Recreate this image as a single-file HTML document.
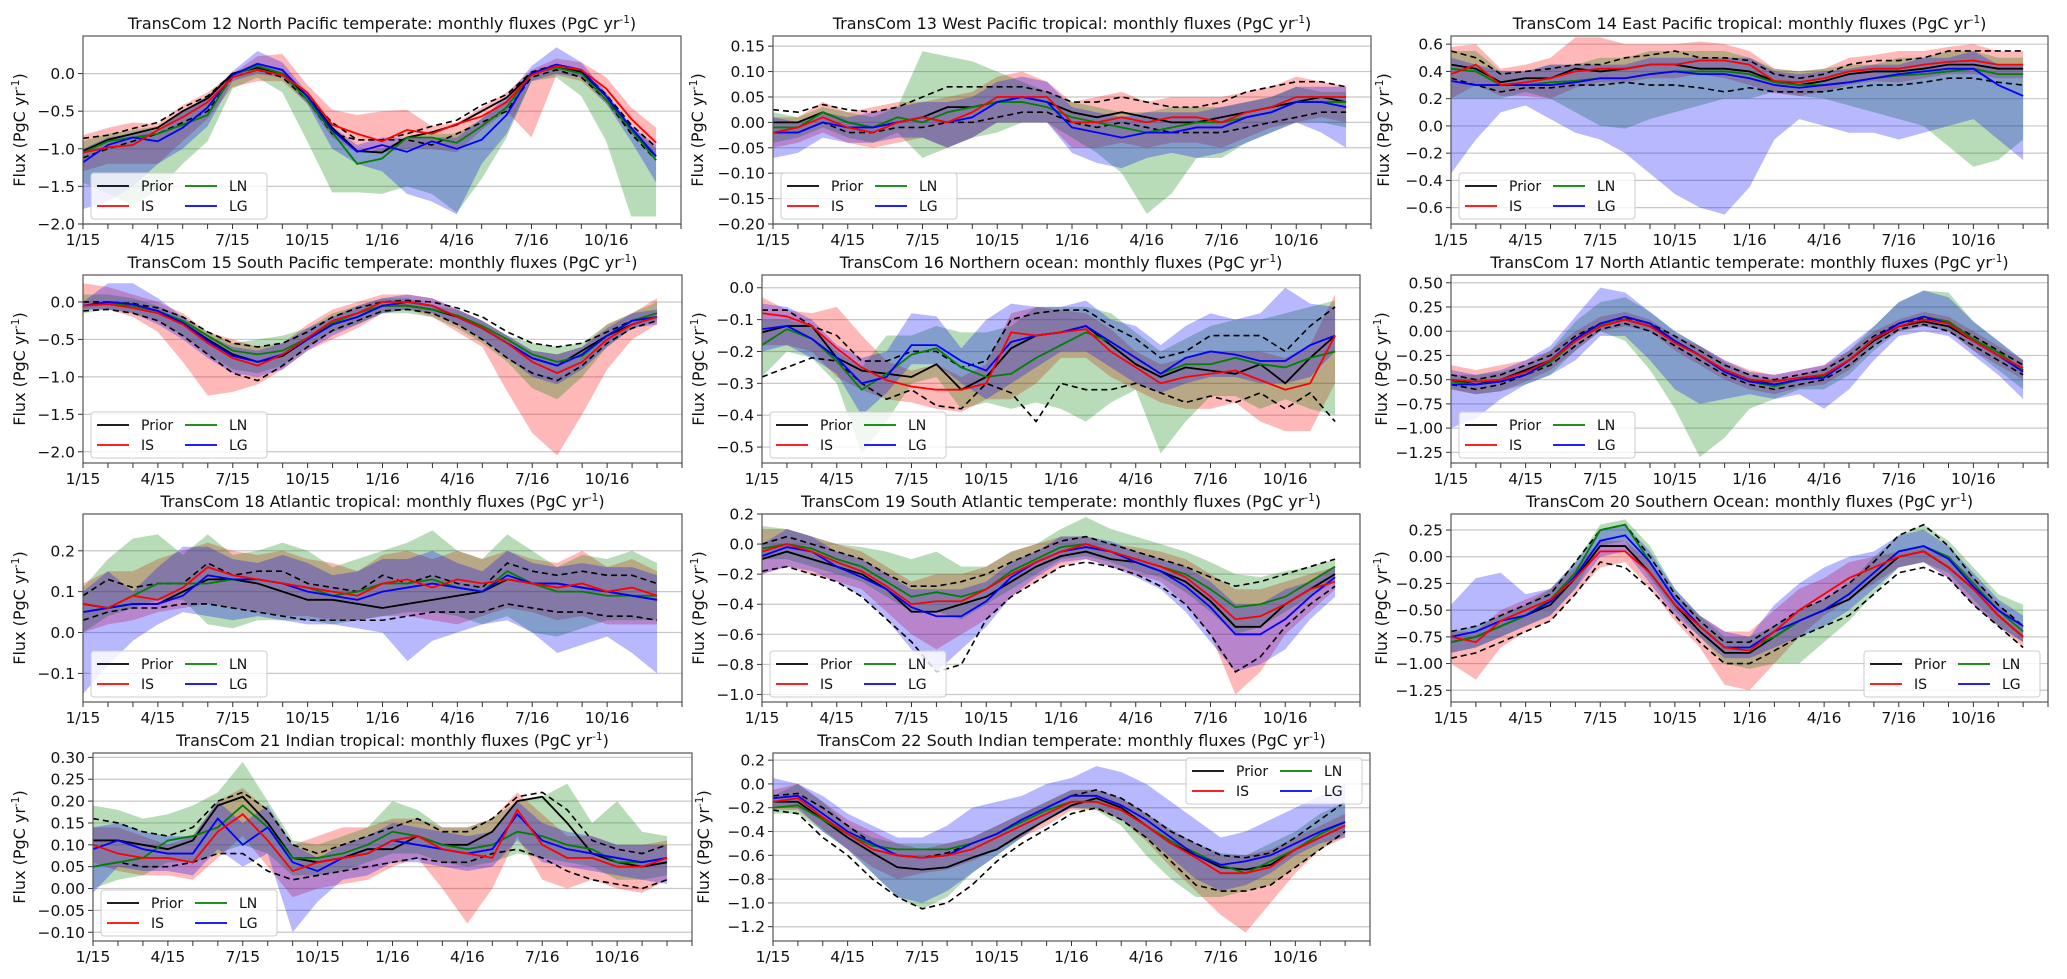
<!DOCTYPE html>
<html><head><meta charset="utf-8"><style>
html,body{margin:0;padding:0;background:#fff;}
svg{display:block;font-family:"DejaVu Sans","Liberation Sans",sans-serif;}
</style></head><body>
<svg id="fig" width="2067" height="979" viewBox="0 0 2067 979" xmlns="http://www.w3.org/2000/svg"></svg>
<script>
const monthTickLabels = ["1/15","4/15","7/15","10/15","1/16","4/16","7/16","10/16"];
const seriesNames = ["Prior","IS","LN","LG"];

const p12_prior=[-1.03,-0.88,-0.8,-0.72,-0.5,-0.33,0.0,0.08,0.0,-0.3,-0.72,-1.03,-1.05,-0.85,-0.78,-0.68,-0.5,-0.32,0.0,0.1,0.02,-0.3,-0.75,-1.1];
const p12_is=[-1.05,-0.98,-0.95,-0.75,-0.58,-0.38,-0.05,0.05,-0.02,-0.25,-0.68,-0.8,-0.9,-0.75,-0.8,-0.67,-0.57,-0.38,-0.02,0.1,0.05,-0.2,-0.6,-0.92];
const p12_ln=[-1.05,-0.9,-0.85,-0.8,-0.68,-0.55,-0.02,0.1,0.0,-0.35,-0.78,-1.2,-1.13,-0.85,-0.85,-0.92,-0.7,-0.45,0.0,0.08,0.0,-0.35,-0.75,-1.15];
const p12_lg=[-1.18,-0.95,-0.85,-0.9,-0.72,-0.45,-0.02,0.13,0.05,-0.3,-0.75,-1.04,-0.95,-1.04,-0.9,-1.0,-0.88,-0.55,0.0,0.12,0.05,-0.3,-0.72,-1.1];
const p12_isHi=[-0.82,-0.72,-0.65,-0.67,-0.42,-0.25,0.0,0.23,0.26,-0.15,-0.48,-0.55,-0.5,-0.48,-0.7,-0.65,-0.45,-0.25,0.05,0.2,0.15,-0.05,-0.45,-0.72];
const p12_isLo=[-1.3,-1.2,-1.2,-1.2,-0.9,-0.6,-0.18,-0.1,-0.1,-0.4,-0.85,-1.05,-1.05,-1.0,-1.0,-1.05,-0.75,-0.5,-0.85,-0.02,-0.1,-0.4,-0.8,-1.1];
const p12_lnHi=[-0.9,-0.8,-0.75,-0.7,-0.5,-0.3,0.0,0.15,0.05,-0.25,-0.7,-1.05,-1.0,-0.85,-0.8,-0.8,-0.6,-0.35,0.03,0.12,0.05,-0.3,-0.7,-1.0];
const p12_lnLo=[-1.45,-1.6,-1.75,-1.55,-1.2,-0.9,-0.2,-0.05,-0.25,-0.9,-1.58,-1.58,-1.6,-1.5,-1.6,-1.85,-1.4,-0.85,-0.1,-0.05,-0.3,-0.9,-1.9,-1.9];
const p12_lgHi=[-1.0,-0.85,-0.8,-0.75,-0.5,-0.3,0.03,0.3,0.15,-0.25,-0.7,-0.95,-0.85,-0.85,-0.85,-0.85,-0.6,-0.3,0.1,0.35,0.15,-0.25,-0.7,-0.95];
const p12_lgLo=[-1.8,-1.7,-1.5,-1.2,-1.0,-0.7,-0.1,0.0,-0.05,-0.4,-1.0,-1.2,-1.3,-1.6,-1.7,-1.87,-1.2,-0.8,-0.1,0.0,-0.05,-0.4,-0.9,-1.45];
const p12_prHi=[-0.86,-0.82,-0.73,-0.65,-0.45,-0.3,0.0,0.1,0.0,-0.3,-0.65,-0.88,-0.88,-0.8,-0.7,-0.62,-0.42,-0.28,0.02,0.12,0.04,-0.28,-0.68,-0.98];
const p12_prLo=[-1.12,-1.0,-0.9,-0.8,-0.65,-0.5,-0.05,0.05,-0.05,-0.35,-0.8,-0.88,-0.88,-0.88,-0.95,-0.8,-0.65,-0.5,-0.05,0.05,-0.05,-0.35,-0.8,-1.15];

const p13_prior=[0.0,0.0,0.02,0.0,-0.01,0.0,0.01,0.03,0.03,0.04,0.05,0.04,0.02,0.01,0.02,0.01,0.0,0.0,0.01,0.02,0.03,0.04,0.05,0.04];
const p13_is=[-0.02,-0.01,0.01,-0.01,-0.02,0.0,0.01,0.0,0.02,0.05,0.05,0.05,0.0,0.0,0.01,0.0,0.01,0.01,0.0,0.02,0.03,0.05,0.05,0.05];
const p13_ln=[-0.01,-0.01,0.02,0.0,-0.01,0.01,0.0,0.02,0.03,0.04,0.04,0.03,0.01,0.0,-0.01,-0.02,-0.01,0.0,0.0,0.01,0.02,0.04,0.04,0.04];
const p13_lg=[-0.02,-0.02,0.0,-0.01,-0.01,0.0,0.01,0.0,0.01,0.04,0.05,0.04,-0.01,-0.02,-0.03,-0.02,-0.02,-0.01,-0.01,0.01,0.02,0.04,0.04,0.03];
const p13_isHi=[0.01,0.01,0.04,0.02,0.03,0.04,0.04,0.05,0.06,0.09,0.1,0.08,0.04,0.05,0.06,0.04,0.05,0.05,0.05,0.06,0.07,0.09,0.08,0.07];
const p13_isLo=[-0.05,-0.04,-0.02,-0.04,-0.05,-0.04,-0.03,-0.05,-0.03,0.0,0.0,0.0,-0.05,-0.05,-0.04,-0.05,-0.04,-0.04,-0.05,-0.03,-0.01,0.0,0.01,0.0];
const p13_lnHi=[0.02,0.01,0.03,0.02,0.01,0.03,0.14,0.13,0.12,0.1,0.08,0.06,0.04,0.03,0.02,0.02,0.03,0.03,0.03,0.04,0.05,0.07,0.06,0.06];
const p13_lnLo=[-0.04,-0.03,-0.01,-0.03,-0.04,-0.02,-0.07,-0.05,-0.03,-0.02,0.0,0.0,-0.03,-0.06,-0.1,-0.18,-0.14,-0.07,-0.07,-0.04,-0.02,0.0,0.0,-0.01];
const p13_lgHi=[0.01,0.0,0.02,0.01,0.02,0.03,0.04,0.04,0.05,0.08,0.09,0.08,0.03,0.02,0.01,0.02,0.02,0.02,0.03,0.04,0.05,0.07,0.07,0.07];
const p13_lgLo=[-0.07,-0.06,-0.03,-0.04,-0.04,-0.03,-0.03,-0.05,-0.03,0.0,0.0,0.0,-0.06,-0.08,-0.09,-0.07,-0.06,-0.07,-0.06,-0.04,-0.02,0.0,-0.02,-0.05];
const p13_prHi=[0.025,0.02,0.035,0.025,0.02,0.03,0.05,0.07,0.07,0.07,0.07,0.06,0.04,0.04,0.05,0.04,0.03,0.03,0.04,0.06,0.07,0.08,0.08,0.07];
const p13_prLo=[-0.02,-0.02,0.0,-0.02,-0.02,-0.01,-0.01,0.0,0.0,0.01,0.02,0.02,0.0,-0.01,0.0,-0.01,-0.02,-0.02,-0.02,-0.01,0.0,0.01,0.02,0.02];

const p14_prior=[0.45,0.42,0.32,0.35,0.35,0.42,0.4,0.42,0.45,0.45,0.42,0.42,0.4,0.33,0.3,0.33,0.38,0.4,0.4,0.42,0.45,0.45,0.42,0.42];
const p14_is=[0.38,0.45,0.3,0.32,0.35,0.4,0.42,0.42,0.45,0.45,0.48,0.48,0.45,0.33,0.32,0.35,0.4,0.42,0.42,0.45,0.47,0.48,0.45,0.45];
const p14_ln=[0.42,0.4,0.3,0.3,0.32,0.33,0.35,0.35,0.38,0.4,0.4,0.4,0.38,0.32,0.3,0.3,0.32,0.35,0.37,0.38,0.4,0.42,0.38,0.38];
const p14_lg=[0.33,0.3,0.3,0.3,0.3,0.32,0.35,0.35,0.38,0.4,0.38,0.38,0.35,0.3,0.28,0.3,0.32,0.35,0.38,0.4,0.42,0.42,0.3,0.22];
const p14_isHi=[0.58,0.6,0.42,0.45,0.5,0.65,0.65,0.6,0.6,0.6,0.62,0.6,0.55,0.42,0.4,0.42,0.5,0.52,0.55,0.55,0.58,0.6,0.55,0.55];
const p14_isLo=[0.2,0.3,0.22,0.22,0.2,0.28,0.32,0.32,0.35,0.35,0.38,0.35,0.3,0.24,0.22,0.25,0.3,0.33,0.32,0.35,0.38,0.38,0.35,0.35];
const p14_lnHi=[0.55,0.55,0.4,0.4,0.45,0.45,0.5,0.5,0.55,0.55,0.55,0.55,0.5,0.42,0.4,0.42,0.45,0.45,0.5,0.5,0.55,0.55,0.5,0.5];
const p14_lnLo=[0.2,0.2,0.2,0.25,0.2,0.1,0.0,-0.02,0.05,0.1,0.15,0.2,0.2,0.25,0.22,0.2,0.15,0.1,0.05,0.0,-0.15,-0.3,-0.25,-0.1];
const p14_lgHi=[0.5,0.45,0.4,0.4,0.45,0.45,0.45,0.45,0.5,0.5,0.5,0.5,0.5,0.4,0.38,0.4,0.42,0.45,0.45,0.5,0.5,0.55,0.45,0.45];
const p14_lgLo=[-0.35,-0.1,0.1,0.15,0.05,-0.05,-0.1,-0.2,-0.35,-0.5,-0.6,-0.65,-0.45,-0.1,0.05,0.0,-0.05,-0.05,-0.1,-0.05,0.0,0.05,-0.1,-0.25];
const p14_prHi=[0.55,0.5,0.38,0.4,0.42,0.45,0.45,0.5,0.52,0.55,0.5,0.5,0.48,0.38,0.35,0.38,0.45,0.48,0.48,0.5,0.55,0.55,0.55,0.55];
const p14_prLo=[0.35,0.3,0.25,0.28,0.28,0.3,0.3,0.32,0.3,0.3,0.28,0.25,0.28,0.25,0.25,0.25,0.28,0.3,0.3,0.32,0.35,0.35,0.32,0.3];

const p15_prior=[-0.05,-0.02,-0.05,-0.12,-0.28,-0.5,-0.7,-0.8,-0.72,-0.5,-0.3,-0.2,-0.05,-0.05,-0.1,-0.2,-0.35,-0.55,-0.75,-0.85,-0.65,-0.45,-0.3,-0.2];
const p15_is=[-0.05,-0.03,-0.08,-0.15,-0.3,-0.55,-0.75,-0.85,-0.7,-0.48,-0.25,-0.15,0.0,0.0,-0.05,-0.2,-0.35,-0.55,-0.8,-0.95,-0.8,-0.5,-0.3,-0.2];
const p15_ln=[-0.05,-0.02,-0.05,-0.12,-0.25,-0.45,-0.65,-0.7,-0.65,-0.48,-0.28,-0.15,-0.05,-0.05,-0.1,-0.18,-0.32,-0.5,-0.7,-0.8,-0.72,-0.45,-0.25,-0.15];
const p15_lg=[-0.05,0.0,-0.03,-0.12,-0.28,-0.52,-0.72,-0.8,-0.7,-0.5,-0.3,-0.2,-0.05,0.0,-0.05,-0.2,-0.35,-0.55,-0.75,-0.85,-0.7,-0.45,-0.25,-0.2];
const p15_isHi=[0.25,0.2,0.1,0.0,-0.15,-0.4,-0.5,-0.6,-0.55,-0.3,-0.1,0.0,0.1,0.1,0.05,-0.1,-0.25,-0.45,-0.65,-0.7,-0.6,-0.3,-0.15,0.05];
const p15_isLo=[-0.1,-0.1,-0.2,-0.4,-0.8,-1.25,-1.2,-1.1,-0.9,-0.65,-0.5,-0.35,-0.15,-0.1,-0.2,-0.4,-0.6,-1.2,-1.75,-2.05,-1.5,-0.9,-0.5,-0.3];
const p15_lnHi=[0.1,0.1,0.05,-0.05,-0.2,-0.4,-0.55,-0.5,-0.45,-0.35,-0.15,-0.05,0.05,0.05,-0.05,-0.1,-0.25,-0.45,-0.55,-0.6,-0.55,-0.3,-0.15,0.0];
const p15_lnLo=[-0.15,-0.1,-0.15,-0.25,-0.45,-0.7,-0.9,-0.95,-0.85,-0.6,-0.4,-0.3,-0.15,-0.15,-0.2,-0.35,-0.55,-0.8,-1.15,-1.3,-1.0,-0.6,-0.35,-0.25];
const p15_lgHi=[0.0,0.25,0.25,0.05,-0.2,-0.45,-0.6,-0.65,-0.55,-0.35,-0.2,-0.05,0.05,0.1,0.05,-0.1,-0.25,-0.45,-0.65,-0.7,-0.6,-0.35,-0.15,-0.1];
const p15_lgLo=[-0.1,-0.1,-0.15,-0.3,-0.5,-0.75,-0.95,-1.0,-0.9,-0.65,-0.45,-0.3,-0.15,-0.1,-0.15,-0.3,-0.5,-0.75,-1.0,-1.1,-0.9,-0.6,-0.35,-0.3];
const p15_prHi=[0.0,0.0,-0.02,-0.08,-0.2,-0.4,-0.55,-0.6,-0.55,-0.4,-0.2,-0.08,0.0,0.02,0.0,-0.08,-0.2,-0.4,-0.55,-0.6,-0.55,-0.4,-0.25,-0.15];
const p15_prLo=[-0.12,-0.1,-0.15,-0.25,-0.45,-0.7,-0.95,-1.05,-0.85,-0.6,-0.38,-0.25,-0.12,-0.1,-0.15,-0.3,-0.5,-0.75,-0.95,-1.05,-0.85,-0.55,-0.35,-0.25];

const p16_prior=[-0.14,-0.12,-0.12,-0.22,-0.26,-0.27,-0.28,-0.24,-0.32,-0.28,-0.19,-0.15,-0.14,-0.12,-0.18,-0.24,-0.28,-0.25,-0.26,-0.27,-0.24,-0.3,-0.22,-0.15];
const p16_is=[-0.08,-0.09,-0.12,-0.19,-0.25,-0.29,-0.31,-0.32,-0.32,-0.3,-0.14,-0.15,-0.14,-0.13,-0.2,-0.25,-0.3,-0.28,-0.27,-0.26,-0.29,-0.32,-0.3,-0.15];
const p16_ln=[-0.18,-0.13,-0.16,-0.23,-0.32,-0.27,-0.21,-0.19,-0.25,-0.28,-0.27,-0.22,-0.18,-0.14,-0.17,-0.22,-0.27,-0.24,-0.24,-0.22,-0.24,-0.25,-0.22,-0.2];
const p16_lg=[-0.13,-0.12,-0.16,-0.22,-0.3,-0.28,-0.18,-0.18,-0.23,-0.26,-0.17,-0.15,-0.14,-0.12,-0.17,-0.22,-0.27,-0.22,-0.2,-0.21,-0.23,-0.23,-0.18,-0.15];
const p16_isHi=[-0.03,-0.07,-0.08,-0.06,-0.15,-0.23,-0.26,-0.24,-0.28,-0.24,-0.08,-0.06,-0.07,-0.08,-0.13,-0.2,-0.24,-0.22,-0.2,-0.2,-0.2,-0.22,-0.18,-0.02];
const p16_isLo=[-0.18,-0.18,-0.2,-0.28,-0.32,-0.35,-0.36,-0.38,-0.39,-0.35,-0.35,-0.3,-0.22,-0.22,-0.28,-0.32,-0.36,-0.38,-0.38,-0.36,-0.42,-0.45,-0.45,-0.3];
const p16_lnHi=[-0.1,-0.1,-0.12,-0.2,-0.25,-0.15,-0.15,-0.12,-0.14,-0.14,-0.12,-0.06,-0.06,-0.06,-0.08,-0.14,-0.2,-0.16,-0.12,-0.1,-0.1,-0.08,-0.06,-0.04];
const p16_lnLo=[-0.28,-0.2,-0.22,-0.3,-0.52,-0.42,-0.3,-0.28,-0.38,-0.36,-0.38,-0.36,-0.38,-0.42,-0.36,-0.32,-0.52,-0.42,-0.34,-0.34,-0.38,-0.35,-0.38,-0.4];
const p16_lgHi=[-0.05,-0.06,-0.1,-0.18,-0.22,-0.2,-0.08,-0.09,-0.19,-0.1,-0.05,-0.06,-0.06,-0.04,-0.1,-0.12,-0.18,-0.12,-0.08,-0.1,-0.08,0.0,-0.05,-0.06];
const p16_lgLo=[-0.2,-0.18,-0.22,-0.27,-0.4,-0.33,-0.24,-0.24,-0.3,-0.35,-0.3,-0.25,-0.2,-0.2,-0.25,-0.3,-0.33,-0.3,-0.28,-0.28,-0.3,-0.3,-0.28,-0.2];
const p16_prHi=[-0.07,-0.07,-0.12,-0.15,-0.23,-0.23,-0.2,-0.2,-0.25,-0.23,-0.1,-0.08,-0.07,-0.07,-0.12,-0.16,-0.22,-0.2,-0.15,-0.15,-0.15,-0.2,-0.12,-0.06];
const p16_prLo=[-0.28,-0.25,-0.22,-0.23,-0.3,-0.35,-0.32,-0.37,-0.38,-0.3,-0.33,-0.42,-0.3,-0.32,-0.32,-0.3,-0.33,-0.36,-0.34,-0.36,-0.33,-0.38,-0.33,-0.42];

const p17_prior=[-0.5,-0.55,-0.5,-0.4,-0.3,-0.1,0.05,0.12,0.05,-0.1,-0.25,-0.4,-0.5,-0.55,-0.5,-0.45,-0.3,-0.1,0.05,0.1,0.05,-0.1,-0.25,-0.4];
const p17_is=[-0.5,-0.52,-0.5,-0.42,-0.3,-0.1,0.05,0.12,0.05,-0.12,-0.25,-0.4,-0.5,-0.52,-0.48,-0.45,-0.3,-0.08,0.05,0.12,0.08,-0.1,-0.25,-0.38];
const p17_ln=[-0.52,-0.55,-0.52,-0.45,-0.32,-0.1,0.07,0.15,0.08,-0.1,-0.25,-0.42,-0.52,-0.57,-0.5,-0.47,-0.3,-0.08,0.08,0.15,0.1,-0.08,-0.22,-0.4];
const p17_lg=[-0.55,-0.55,-0.52,-0.45,-0.3,-0.08,0.08,0.15,0.08,-0.1,-0.25,-0.42,-0.52,-0.55,-0.5,-0.48,-0.3,-0.08,0.08,0.15,0.08,-0.1,-0.25,-0.42];
const p17_isHi=[-0.35,-0.4,-0.35,-0.3,-0.2,0.0,0.15,0.2,0.12,-0.05,-0.15,-0.3,-0.4,-0.45,-0.4,-0.35,-0.2,0.0,0.12,0.2,0.15,0.0,-0.15,-0.3];
const p17_isLo=[-0.6,-0.65,-0.62,-0.52,-0.4,-0.2,0.0,0.05,0.0,-0.2,-0.35,-0.5,-0.6,-0.65,-0.58,-0.55,-0.4,-0.15,0.0,0.05,0.0,-0.2,-0.35,-0.5];
const p17_lnHi=[-0.45,-0.45,-0.42,-0.35,-0.2,0.1,0.3,0.35,0.2,0.0,-0.15,-0.32,-0.45,-0.5,-0.45,-0.38,-0.2,0.05,0.3,0.42,0.4,0.1,-0.1,-0.3];
const p17_lnLo=[-0.6,-0.65,-0.62,-0.55,-0.45,-0.2,0.0,-0.1,-0.4,-0.8,-1.3,-1.1,-0.8,-0.7,-0.6,-0.6,-0.45,-0.2,0.0,0.05,0.0,-0.2,-0.4,-0.6];
const p17_lgHi=[-0.4,-0.45,-0.4,-0.3,-0.15,0.15,0.45,0.4,0.2,0.0,-0.15,-0.3,-0.42,-0.45,-0.4,-0.35,-0.15,0.05,0.3,0.42,0.35,0.1,-0.1,-0.3];
const p17_lgLo=[-1.0,-0.9,-0.7,-0.55,-0.45,-0.3,-0.05,-0.05,-0.3,-0.6,-0.75,-0.7,-0.65,-0.7,-0.65,-0.8,-0.6,-0.3,-0.05,0.0,-0.05,-0.25,-0.45,-0.7];
const p17_prHi=[-0.45,-0.5,-0.45,-0.35,-0.25,-0.05,0.08,0.14,0.08,-0.05,-0.2,-0.35,-0.45,-0.5,-0.45,-0.4,-0.25,-0.05,0.08,0.13,0.08,-0.05,-0.2,-0.35];
const p17_prLo=[-0.55,-0.6,-0.55,-0.45,-0.35,-0.15,0.02,0.08,0.0,-0.15,-0.3,-0.45,-0.55,-0.6,-0.55,-0.5,-0.35,-0.15,0.02,0.07,0.0,-0.15,-0.3,-0.45];

const p18_prior=[0.07,0.06,0.07,0.07,0.1,0.13,0.13,0.12,0.1,0.08,0.08,0.07,0.06,0.07,0.08,0.09,0.1,0.13,0.12,0.12,0.11,0.1,0.09,0.08];
const p18_is=[0.07,0.06,0.09,0.08,0.11,0.16,0.14,0.13,0.12,0.11,0.1,0.09,0.12,0.13,0.11,0.13,0.12,0.13,0.12,0.11,0.12,0.1,0.11,0.09];
const p18_ln=[0.05,0.06,0.09,0.12,0.12,0.12,0.13,0.13,0.12,0.11,0.09,0.1,0.12,0.12,0.13,0.11,0.1,0.15,0.12,0.1,0.1,0.09,0.09,0.09];
const p18_lg=[0.05,0.06,0.07,0.07,0.09,0.14,0.13,0.13,0.12,0.1,0.09,0.08,0.1,0.11,0.12,0.11,0.1,0.14,0.12,0.12,0.11,0.1,0.09,0.08];
const p18_isHi=[0.12,0.15,0.15,0.18,0.2,0.22,0.2,0.19,0.2,0.18,0.17,0.15,0.19,0.2,0.18,0.2,0.18,0.2,0.18,0.17,0.2,0.16,0.18,0.15];
const p18_isLo=[0.0,0.02,0.03,0.05,0.06,0.07,0.06,0.05,0.04,0.04,0.03,0.03,0.04,0.04,0.03,0.02,0.04,0.06,0.05,0.03,0.04,0.02,0.02,0.02];
const p18_lnHi=[0.11,0.18,0.23,0.24,0.19,0.24,0.19,0.2,0.22,0.2,0.16,0.18,0.2,0.22,0.25,0.2,0.18,0.24,0.2,0.16,0.19,0.18,0.2,0.17];
const p18_lnLo=[0.0,0.04,0.06,0.08,0.08,0.02,0.01,0.03,0.03,0.03,0.02,0.03,0.04,0.05,0.05,0.04,0.02,0.04,0.0,-0.01,0.01,0.03,0.03,0.03];
const p18_lgHi=[0.1,0.15,0.1,0.16,0.21,0.21,0.18,0.17,0.19,0.17,0.14,0.15,0.18,0.18,0.2,0.17,0.15,0.2,0.17,0.16,0.17,0.16,0.16,0.14];
const p18_lgLo=[-0.15,-0.08,-0.02,0.02,0.05,0.04,0.03,0.04,0.03,0.02,0.02,0.01,0.0,-0.07,-0.02,0.0,0.02,0.03,0.0,-0.05,-0.03,-0.01,-0.05,-0.1];
const p18_prHi=[0.09,0.13,0.11,0.12,0.12,0.17,0.14,0.15,0.15,0.12,0.11,0.1,0.14,0.12,0.14,0.12,0.11,0.17,0.15,0.14,0.15,0.14,0.14,0.12];
const p18_prLo=[0.03,0.05,0.06,0.06,0.07,0.07,0.06,0.05,0.04,0.03,0.03,0.03,0.03,0.04,0.05,0.05,0.05,0.07,0.06,0.05,0.05,0.04,0.04,0.03];

const p19_prior=[-0.1,-0.05,-0.1,-0.15,-0.2,-0.3,-0.45,-0.45,-0.4,-0.35,-0.25,-0.15,-0.08,-0.05,-0.1,-0.12,-0.18,-0.25,-0.38,-0.55,-0.55,-0.4,-0.3,-0.2];
const p19_is=[-0.05,0.0,-0.05,-0.12,-0.18,-0.28,-0.4,-0.38,-0.38,-0.3,-0.2,-0.12,-0.05,0.0,-0.05,-0.1,-0.15,-0.22,-0.35,-0.5,-0.48,-0.4,-0.3,-0.25];
const p19_ln=[-0.03,0.0,-0.03,-0.1,-0.15,-0.25,-0.35,-0.32,-0.35,-0.3,-0.18,-0.1,-0.02,0.0,-0.05,-0.1,-0.15,-0.2,-0.3,-0.42,-0.4,-0.35,-0.25,-0.15];
const p19_lg=[-0.08,-0.02,-0.05,-0.15,-0.22,-0.3,-0.42,-0.48,-0.48,-0.38,-0.22,-0.12,-0.05,-0.02,-0.05,-0.12,-0.18,-0.28,-0.42,-0.6,-0.6,-0.5,-0.35,-0.22];
const p19_isHi=[0.1,0.1,0.05,0.0,-0.05,-0.15,-0.25,-0.2,-0.2,-0.15,-0.05,0.0,0.05,0.05,0.0,-0.02,-0.05,-0.1,-0.2,-0.3,-0.3,-0.25,-0.2,-0.15];
const p19_isLo=[-0.2,-0.15,-0.2,-0.25,-0.3,-0.45,-0.6,-0.7,-0.6,-0.5,-0.35,-0.25,-0.15,-0.1,-0.15,-0.2,-0.25,-0.4,-0.6,-1.0,-0.85,-0.6,-0.45,-0.3];
const p19_lnHi=[0.12,0.1,0.05,0.0,-0.02,-0.05,-0.1,-0.05,-0.15,-0.15,-0.05,0.0,0.1,0.18,0.1,0.05,0.0,-0.05,-0.12,-0.2,-0.22,-0.18,-0.15,-0.1];
const p19_lnLo=[-0.1,-0.1,-0.15,-0.2,-0.25,-0.35,-0.45,-0.45,-0.5,-0.4,-0.3,-0.2,-0.1,-0.08,-0.12,-0.18,-0.22,-0.32,-0.45,-0.6,-0.55,-0.45,-0.35,-0.25];
const p19_lgHi=[0.0,0.1,0.05,-0.05,-0.1,-0.2,-0.3,-0.3,-0.3,-0.25,-0.12,-0.05,0.05,0.05,0.02,-0.05,-0.1,-0.15,-0.25,-0.4,-0.4,-0.3,-0.25,-0.15];
const p19_lgLo=[-0.2,-0.15,-0.18,-0.25,-0.35,-0.5,-0.7,-0.85,-0.7,-0.55,-0.35,-0.22,-0.12,-0.1,-0.15,-0.22,-0.3,-0.45,-0.65,-0.85,-0.8,-0.7,-0.5,-0.35];
const p19_prHi=[0.0,0.05,0.0,-0.05,-0.1,-0.2,-0.28,-0.28,-0.25,-0.2,-0.12,-0.05,0.02,0.05,0.0,-0.05,-0.1,-0.15,-0.22,-0.28,-0.25,-0.2,-0.15,-0.1];
const p19_prLo=[-0.18,-0.15,-0.2,-0.25,-0.35,-0.5,-0.65,-0.85,-0.8,-0.5,-0.35,-0.25,-0.15,-0.12,-0.15,-0.2,-0.28,-0.4,-0.6,-0.85,-0.75,-0.55,-0.4,-0.28];

const p20_prior=[-0.8,-0.75,-0.65,-0.55,-0.45,-0.2,0.1,0.1,-0.15,-0.45,-0.7,-0.9,-0.9,-0.75,-0.6,-0.5,-0.4,-0.2,0.0,0.05,-0.1,-0.3,-0.55,-0.75];
const p20_is=[-0.75,-0.8,-0.6,-0.5,-0.4,-0.2,0.05,0.05,-0.15,-0.45,-0.65,-0.85,-0.88,-0.7,-0.5,-0.35,-0.2,-0.1,0.0,0.05,-0.1,-0.3,-0.55,-0.75];
const p20_ln=[-0.8,-0.75,-0.65,-0.55,-0.4,-0.15,0.25,0.3,-0.05,-0.4,-0.65,-0.85,-0.85,-0.75,-0.6,-0.5,-0.35,-0.15,0.05,0.1,0.0,-0.25,-0.5,-0.7];
const p20_lg=[-0.75,-0.7,-0.6,-0.55,-0.42,-0.18,0.15,0.2,-0.05,-0.4,-0.65,-0.85,-0.85,-0.7,-0.6,-0.5,-0.35,-0.15,0.05,0.1,-0.02,-0.28,-0.5,-0.65];
const p20_isHi=[-0.7,-0.7,-0.5,-0.4,-0.3,-0.1,0.15,0.15,-0.05,-0.35,-0.55,-0.7,-0.7,-0.5,-0.3,-0.2,-0.05,0.0,0.05,0.1,0.0,-0.2,-0.45,-0.65];
const p20_isLo=[-1.0,-1.15,-0.85,-0.7,-0.6,-0.35,-0.1,-0.05,-0.3,-0.6,-0.85,-1.2,-1.25,-1.0,-0.75,-0.55,-0.4,-0.25,-0.1,-0.05,-0.2,-0.45,-0.65,-0.85];
const p20_lnHi=[-0.7,-0.65,-0.55,-0.45,-0.3,-0.05,0.3,0.35,0.1,-0.3,-0.55,-0.75,-0.75,-0.65,-0.5,-0.4,-0.25,0.0,0.2,0.3,0.15,-0.1,-0.35,-0.45];
const p20_lnLo=[-0.9,-0.85,-0.75,-0.65,-0.55,-0.3,0.1,0.15,-0.2,-0.5,-0.75,-1.0,-1.05,-1.0,-1.0,-0.8,-0.6,-0.35,-0.1,-0.05,-0.15,-0.4,-0.65,-0.8];
const p20_lgHi=[-0.45,-0.2,-0.15,-0.35,-0.3,-0.05,0.25,0.3,0.05,-0.3,-0.55,-0.7,-0.75,-0.45,-0.25,-0.1,0.0,0.05,0.2,0.25,0.1,-0.15,-0.4,-0.55];
const p20_lgLo=[-0.9,-0.85,-0.75,-0.65,-0.55,-0.3,0.0,0.05,-0.25,-0.55,-0.75,-0.95,-0.95,-0.85,-0.75,-0.65,-0.5,-0.3,-0.1,-0.05,-0.2,-0.45,-0.65,-0.8];
const p20_prHi=[-0.7,-0.65,-0.55,-0.45,-0.35,-0.05,0.25,0.3,0.0,-0.35,-0.6,-0.8,-0.8,-0.65,-0.5,-0.4,-0.25,-0.05,0.2,0.3,0.1,-0.2,-0.45,-0.65];
const p20_prLo=[-0.95,-0.9,-0.8,-0.7,-0.6,-0.35,-0.05,-0.1,-0.3,-0.55,-0.8,-1.0,-1.0,-0.88,-0.75,-0.65,-0.55,-0.35,-0.15,-0.1,-0.2,-0.45,-0.65,-0.85];

const p21_prior=[0.11,0.11,0.1,0.09,0.11,0.19,0.21,0.15,0.07,0.06,0.07,0.09,0.09,0.12,0.1,0.1,0.13,0.2,0.21,0.15,0.08,0.06,0.05,0.06];
const p21_is=[0.1,0.08,0.07,0.07,0.06,0.13,0.17,0.11,0.04,0.06,0.07,0.08,0.11,0.12,0.09,0.08,0.07,0.18,0.1,0.07,0.07,0.05,0.05,0.07];
const p21_ln=[0.05,0.06,0.07,0.11,0.12,0.14,0.19,0.14,0.07,0.07,0.08,0.1,0.13,0.12,0.1,0.09,0.1,0.13,0.12,0.1,0.09,0.06,0.06,0.07];
const p21_lg=[0.09,0.11,0.09,0.08,0.08,0.16,0.1,0.14,0.06,0.04,0.07,0.08,0.11,0.1,0.09,0.08,0.09,0.17,0.11,0.09,0.08,0.07,0.06,0.07];
const p21_isHi=[0.14,0.14,0.12,0.1,0.12,0.2,0.23,0.18,0.1,0.12,0.14,0.14,0.16,0.16,0.14,0.14,0.16,0.22,0.17,0.12,0.12,0.1,0.1,0.11];
const p21_isLo=[0.06,0.04,0.03,0.03,0.02,0.07,0.12,0.05,-0.02,0.0,0.01,0.02,0.05,0.07,0.0,-0.08,0.0,0.12,0.02,0.0,0.02,0.0,-0.01,0.02];
const p21_lnHi=[0.19,0.18,0.16,0.17,0.19,0.22,0.29,0.2,0.11,0.1,0.12,0.14,0.2,0.18,0.14,0.14,0.16,0.2,0.21,0.24,0.15,0.2,0.13,0.12];
const p21_lnLo=[0.0,0.02,0.03,0.06,0.06,0.08,0.1,0.08,0.03,0.03,0.04,0.06,0.08,0.08,0.06,0.05,0.06,0.08,0.07,0.06,0.05,0.02,0.02,0.03];
const p21_lgHi=[0.14,0.15,0.13,0.12,0.12,0.2,0.15,0.19,0.1,0.07,0.1,0.12,0.15,0.14,0.13,0.12,0.13,0.2,0.15,0.13,0.12,0.1,0.1,0.1];
const p21_lgLo=[-0.01,0.05,0.04,0.04,0.03,0.09,0.05,0.08,-0.1,-0.03,0.02,0.03,0.06,0.06,0.05,0.04,0.05,0.11,0.06,0.05,0.04,0.03,0.02,0.01];
const p21_prHi=[0.16,0.15,0.13,0.12,0.14,0.2,0.22,0.18,0.1,0.08,0.1,0.12,0.14,0.16,0.13,0.13,0.16,0.21,0.22,0.18,0.11,0.09,0.08,0.1];
const p21_prLo=[0.05,0.06,0.05,0.05,0.06,0.08,0.08,0.04,0.02,0.03,0.04,0.05,0.06,0.07,0.06,0.06,0.08,0.09,0.07,0.04,0.02,0.01,0.0,0.02];

const p22_prior=[-0.15,-0.15,-0.3,-0.45,-0.58,-0.7,-0.72,-0.7,-0.62,-0.55,-0.42,-0.3,-0.18,-0.12,-0.2,-0.35,-0.5,-0.6,-0.7,-0.72,-0.68,-0.55,-0.45,-0.35];
const p22_is=[-0.15,-0.12,-0.28,-0.42,-0.55,-0.6,-0.62,-0.6,-0.55,-0.45,-0.35,-0.25,-0.15,-0.15,-0.22,-0.35,-0.5,-0.62,-0.75,-0.75,-0.7,-0.55,-0.45,-0.35];
const p22_ln=[-0.2,-0.18,-0.3,-0.42,-0.52,-0.55,-0.55,-0.55,-0.5,-0.42,-0.32,-0.22,-0.15,-0.15,-0.22,-0.35,-0.48,-0.58,-0.68,-0.75,-0.65,-0.55,-0.42,-0.32];
const p22_lg=[-0.12,-0.1,-0.25,-0.4,-0.5,-0.6,-0.62,-0.6,-0.5,-0.42,-0.3,-0.2,-0.1,-0.1,-0.18,-0.3,-0.45,-0.6,-0.68,-0.65,-0.6,-0.5,-0.4,-0.32];
const p22_isHi=[-0.05,0.0,-0.15,-0.3,-0.4,-0.5,-0.55,-0.5,-0.45,-0.35,-0.25,-0.15,-0.05,-0.05,-0.12,-0.25,-0.4,-0.5,-0.6,-0.6,-0.55,-0.45,-0.35,-0.25];
const p22_isLo=[-0.22,-0.22,-0.38,-0.55,-0.7,-0.8,-0.75,-0.72,-0.65,-0.55,-0.45,-0.35,-0.22,-0.22,-0.3,-0.48,-0.7,-0.9,-1.1,-1.25,-1.0,-0.75,-0.55,-0.45];
const p22_lnHi=[-0.1,0.0,-0.15,-0.35,-0.45,-0.5,-0.5,-0.5,-0.45,-0.35,-0.25,-0.15,-0.05,-0.05,-0.12,-0.25,-0.38,-0.5,-0.58,-0.6,-0.5,-0.4,-0.25,-0.15];
const p22_lnLo=[-0.25,-0.25,-0.4,-0.55,-0.75,-0.95,-1.05,-0.95,-0.75,-0.6,-0.45,-0.3,-0.2,-0.22,-0.35,-0.6,-0.8,-0.95,-0.95,-0.9,-0.85,-0.7,-0.55,-0.42];
const p22_lgHi=[0.05,0.0,-0.1,-0.25,-0.35,-0.45,-0.45,-0.35,-0.2,-0.15,-0.1,0.0,0.05,0.15,0.1,0.0,-0.15,-0.3,-0.45,-0.4,-0.3,-0.2,-0.1,0.0];
const p22_lgLo=[-0.2,-0.2,-0.4,-0.55,-0.75,-0.95,-1.0,-0.9,-0.75,-0.6,-0.45,-0.3,-0.2,-0.2,-0.3,-0.45,-0.62,-0.8,-0.9,-0.85,-0.75,-0.6,-0.5,-0.45];
const p22_prHi=[-0.1,-0.08,-0.2,-0.35,-0.5,-0.6,-0.62,-0.58,-0.5,-0.42,-0.3,-0.2,-0.1,-0.05,-0.12,-0.25,-0.4,-0.5,-0.6,-0.62,-0.58,-0.45,-0.3,-0.15];
const p22_prLo=[-0.22,-0.25,-0.45,-0.6,-0.8,-0.95,-1.05,-1.0,-0.85,-0.65,-0.5,-0.38,-0.25,-0.2,-0.3,-0.45,-0.65,-0.85,-0.9,-0.9,-0.85,-0.7,-0.55,-0.4];

const p12_yticks=[-2.0,-1.5,-1.0,-0.5,0.0];
const p13_yticks=[-0.20,-0.15,-0.10,-0.05,0.00,0.05,0.10,0.15];
const p14_yticks=[-0.6,-0.4,-0.2,0.0,0.2,0.4,0.6];
const p15_yticks=[-2.0,-1.5,-1.0,-0.5,0.0];
const p16_yticks=[-0.5,-0.4,-0.3,-0.2,-0.1,0.0];
const p17_yticks=[-1.25,-1.00,-0.75,-0.50,-0.25,0.00,0.25,0.50];
const p18_yticks=[-0.1,0.0,0.1,0.2];
const p19_yticks=[-1.0,-0.8,-0.6,-0.4,-0.2,0.0,0.2];
const p20_yticks=[-1.25,-1.00,-0.75,-0.50,-0.25,0.00,0.25];
const p21_yticks=[-0.10,-0.05,0.00,0.05,0.10,0.15,0.20,0.25,0.30];
const p22_yticks=[-1.2,-1.0,-0.8,-0.6,-0.4,-0.2,0.0,0.2];

const panels=[
 {id:"12",title:"TransCom 12 North Pacific temperate:",l:83,r:681,row:0,ymin:-2.0,ymax:0.5,dec:1,yt:p12_yticks,leg:"ll",yo:58,d:[p12_prior,p12_is,p12_ln,p12_lg,p12_isHi,p12_isLo,p12_lnHi,p12_lnLo,p12_lgHi,p12_lgLo,p12_prHi,p12_prLo]},
 {id:"13",title:"TransCom 13 West Pacific tropical:",l:773,r:1371,row:0,ymin:-0.2,ymax:0.17,dec:2,yt:p13_yticks,leg:"ll",yo:70,d:[p13_prior,p13_is,p13_ln,p13_lg,p13_isHi,p13_isLo,p13_lnHi,p13_lnLo,p13_lgHi,p13_lgLo,p13_prHi,p13_prLo]},
 {id:"14",title:"TransCom 14 East Pacific tropical:",l:1451,r:2048,row:0,ymin:-0.72,ymax:0.66,dec:1,yt:p14_yticks,leg:"ll",yo:62,d:[p14_prior,p14_is,p14_ln,p14_lg,p14_isHi,p14_isLo,p14_lnHi,p14_lnLo,p14_lgHi,p14_lgLo,p14_prHi,p14_prLo]},
 {id:"15",title:"TransCom 15 South Pacific temperate:",l:83,r:682,row:1,ymin:-2.15,ymax:0.36,dec:1,yt:p15_yticks,leg:"ll",yo:58,d:[p15_prior,p15_is,p15_ln,p15_lg,p15_isHi,p15_isLo,p15_lnHi,p15_lnLo,p15_lgHi,p15_lgLo,p15_prHi,p15_prLo]},
 {id:"16",title:"TransCom 16 Northern ocean:",l:762,r:1360,row:1,ymin:-0.55,ymax:0.04,dec:1,yt:p16_yticks,leg:"ll",yo:58,d:[p16_prior,p16_is,p16_ln,p16_lg,p16_isHi,p16_isLo,p16_lnHi,p16_lnLo,p16_lgHi,p16_lgLo,p16_prHi,p16_prLo]},
 {id:"17",title:"TransCom 17 North Atlantic temperate:",l:1451,r:2048,row:1,ymin:-1.36,ymax:0.58,dec:2,yt:p17_yticks,leg:"ll",yo:64,d:[p17_prior,p17_is,p17_ln,p17_lg,p17_isHi,p17_isLo,p17_lnHi,p17_lnLo,p17_lgHi,p17_lgLo,p17_prHi,p17_prLo]},
 {id:"18",title:"TransCom 18 Atlantic tropical:",l:83,r:682,row:2,ymin:-0.17,ymax:0.29,dec:1,yt:p18_yticks,leg:"ll",yo:58,d:[p18_prior,p18_is,p18_ln,p18_lg,p18_isHi,p18_isLo,p18_lnHi,p18_lnLo,p18_lgHi,p18_lgLo,p18_prHi,p18_prLo]},
 {id:"19",title:"TransCom 19 South Atlantic temperate:",l:762,r:1360,row:2,ymin:-1.05,ymax:0.2,dec:1,yt:p19_yticks,leg:"ll",yo:58,d:[p19_prior,p19_is,p19_ln,p19_lg,p19_isHi,p19_isLo,p19_lnHi,p19_lnLo,p19_lgHi,p19_lgLo,p19_prHi,p19_prLo]},
 {id:"20",title:"TransCom 20 Southern Ocean:",l:1451,r:2048,row:2,ymin:-1.36,ymax:0.4,dec:2,yt:p20_yticks,leg:"lr",yo:64,d:[p20_prior,p20_is,p20_ln,p20_lg,p20_isHi,p20_isLo,p20_lnHi,p20_lnLo,p20_lgHi,p20_lgLo,p20_prHi,p20_prLo]},
 {id:"21",title:"TransCom 21 Indian tropical:",l:93,r:692,row:3,ymin:-0.12,ymax:0.31,dec:2,yt:p21_yticks,leg:"ll",yo:68,d:[p21_prior,p21_is,p21_ln,p21_lg,p21_isHi,p21_isLo,p21_lnHi,p21_lnLo,p21_lgHi,p21_lgLo,p21_prHi,p21_prLo]},
 {id:"22",title:"TransCom 22 South Indian temperate:",l:773,r:1370,row:3,ymin:-1.32,ymax:0.26,dec:1,yt:p22_yticks,leg:"ur",yo:64,d:[p22_prior,p22_is,p22_ln,p22_lg,p22_isHi,p22_isLo,p22_lnHi,p22_lnLo,p22_lgHi,p22_lgLo,p22_prHi,p22_prLo]}
];

const NS="http://www.w3.org/2000/svg";
const svg=document.getElementById("fig");
function mk(tag,attrs,parent){const e=document.createElementNS(NS,tag);for(const k in attrs)e.setAttribute(k,attrs[k]);(parent||svg).appendChild(e);return e;}
function fmt(v,dec){const s=Math.abs(v).toFixed(dec);return (v<-1e-9?"\u2212":"")+s;}

panels.forEach(p=>{
  const top=36+239*p.row, bot=top+188;
  const g=mk("g",{});
  
  
  const xs=i=>p.l+(p.r-p.l)*i/24;
  const ys=v=>bot-(v-p.ymin)/(p.ymax-p.ymin)*(bot-top);
  const cid="clip"+p.id;
  const cp=mk("clipPath",{id:cid},g);mk("rect",{x:p.l,y:top,width:p.r-p.l,height:bot-top},cp);
  p.yt.forEach(v=>{
    const y=ys(v);
    const gl=mk("line",{x1:p.l,x2:p.r,y1:y,y2:y,stroke:"#c8c8c8","stroke-width":1.2},g);
    
    
    mk("line",{x1:p.l-5,x2:p.l,y1:y,y2:y,stroke:"#333","stroke-width":1},g);
    const t=mk("text",{x:p.l-8,y:y+5.5,"text-anchor":"end","font-size":15.5,fill:"#111"},g);
    t.textContent=fmt(v,p.dec);
    
    
  });
  const plot=mk("g",{"clip-path":"url(#"+cid+")"},g);
  const bandCols=["rgba(255,0,0,0.28)","rgba(0,128,0,0.28)","rgba(0,0,255,0.28)"];
  const bandNames=["is-band","ln-band","lg-band"];
  for(let b=0;b<3;b++){
    const hi=p.d[4+b*2], lo=p.d[5+b*2];
    let pts=hi.map((v,i)=>xs(i)+","+ys(v));
    for(let i=lo.length-1;i>=0;i--)pts.push(xs(i)+","+ys(lo[i]));
    const poly=mk("polygon",{points:pts.join(" "),fill:bandCols[b],stroke:"none"},plot);
    
    
  }
  [10,11].forEach(k=>{
    const pl=mk("polyline",{points:p.d[k].map((v,i)=>xs(i)+","+ys(v)).join(" "),fill:"none",stroke:"#000","stroke-width":1.6,"stroke-dasharray":"6,4"},plot);
    
    
  });
  const lineCols=["#000","#ff0000","#008000","#0000ff"];
  [0,2,3,1].forEach(k=>{
    const pl=mk("polyline",{points:p.d[k].map((v,i)=>xs(i)+","+ys(v)).join(" "),fill:"none",stroke:lineCols[k],"stroke-width":1.8},plot);
    
    
  });
  const fr=mk("rect",{x:p.l,y:top,width:p.r-p.l,height:bot-top,fill:"none",stroke:"#555","stroke-width":1.2},g);
  
  
  for(let i=0;i<=24;i++){mk("line",{x1:xs(i),x2:xs(i),y1:bot,y2:bot+5,stroke:"#333","stroke-width":1},g);}
  monthTickLabels.forEach((lab,j)=>{
    const t=mk("text",{x:xs(j*3),y:bot+21,"text-anchor":"middle","font-size":15.5,fill:"#111"},g);
    t.textContent=lab;
    
    
  });
  const tt=mk("text",{x:(p.l+p.r)/2,y:top-7,"text-anchor":"middle","font-size":16,fill:"#111"},g);
  
  
  tt.textContent=p.title+" monthly fluxes (PgC yr";
  const sup=mk("tspan",{"font-size":10.5,dy:-6},tt);sup.textContent="-1";
  const cl=mk("tspan",{dy:6},tt);cl.textContent=")";
  const cx=p.l-p.yo, cy=(top+bot)/2;
  const yl=mk("text",{x:cx,y:cy,"text-anchor":"middle","font-size":16,fill:"#111",transform:"rotate(-90 "+cx+" "+cy+")"},g);
  
  
  yl.textContent="Flux (PgC  yr";
  const s2=mk("tspan",{"font-size":10.5,dy:-6},yl);s2.textContent="-1";
  const c2=mk("tspan",{dy:6},yl);c2.textContent=")";
  const lw=176, lh=46;
  let lx=p.l+8, ly=bot-lh-5;
  if(p.leg==="lr"){lx=p.r-lw-8;}
  if(p.leg==="ur"){lx=p.r-lw-8; ly=top+5;}
  const lg=mk("g",{},g);
  
  
  mk("rect",{x:lx,y:ly,width:lw,height:lh,rx:3,fill:"rgba(255,255,255,0.8)",stroke:"#ccc","stroke-width":1},lg);
  const ent=[[0,0,0],[1,0,1],[2,1,0],[3,1,1]];
  ent.forEach(([k,c,r])=>{
    const ex=lx+6+c*88, ey=ly+13+r*20;
    const e=mk("g",{},lg);
    
    
    mk("line",{x1:ex,x2:ex+32,y1:ey,y2:ey,stroke:lineCols[k],"stroke-width":1.8},e);
    const t=mk("text",{x:ex+44,y:ey+5,"font-size":14,fill:"#111"},e);
    t.textContent=seriesNames[k];
  });
});
</script>
</body></html>
